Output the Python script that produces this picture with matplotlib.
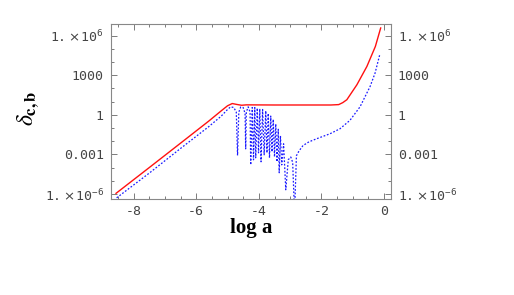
import numpy as np
import matplotlib
matplotlib.use("Agg")
import matplotlib.pyplot as plt
from matplotlib.ticker import FixedLocator, FuncFormatter, MultipleLocator, NullFormatter

# delta_c (red, solid): log a  vs  log10 delta
red_loga = [-8.56, -7.5, -6.5, -5.6, -5.2, -5.0, -4.85, -4.7, -4.55, -4.4,
            -3.5, -2.5, -1.7, -1.45, -1.32, -1.19, -0.87, -0.55, -0.28, -0.11]
red_logd = [-5.95, -4.00, -2.15, -0.48, 0.30, 0.68, 0.85, 0.78, 0.72, 0.75,
            0.74, 0.74, 0.74, 0.77, 0.92, 1.14, 2.27, 3.66, 5.17, 6.57]

# delta_b (blue, dotted): oscillating between decoupling dips
blue_loga = [-8.54, -7.5, -6.5, -5.6, -5.2, -5.0, -4.9, -4.8, -4.72, -4.68,
             -4.64, -4.58, -4.5, -4.44, -4.42,
             -4.40, -4.34, -4.28, -4.26,
             -4.21, -4.17, -4.13, -4.10, -4.05, -4.01, -3.97, -3.93,
             -3.88, -3.83, -3.78, -3.74, -3.70, -3.66, -3.62, -3.58,
             -3.54, -3.50, -3.46, -3.42, -3.38, -3.35, -3.31, -3.27,
             -3.21, -3.14, -3.06, -2.98, -2.92, -2.86,
             -2.80, -2.72, -2.59, -2.40, -2.16, -1.73, -1.41, -1.09,
             -0.77, -0.45, -0.29, -0.14]
blue_logd = [-6.29, -4.42, -2.55, -0.90, -0.10, 0.40, 0.60, 0.55, 0.2, -3.08,
             0.2, 0.58, 0.55, 0.1, -2.58,
             0.2, 0.60, 0.2, -3.79,
             0.55, -3.41, 0.55, -3.26, 0.50, -2.88, 0.45, -3.56,
             0.40, -3.03, 0.30, -2.88, 0.10, -3.26, -0.10, -2.80,
             -0.35, -3.18, -0.70, -3.56, -1.10, -4.39, -1.60, -3.79,
             -2.20, -5.68, -3.4, -3.2, -3.6, -7.5,
             -3.1, -2.75, -2.33, -2.05, -1.82, -1.44, -1.06, -0.42,
             0.60, 2.13, 3.15, 4.55]

y_major = [1e-6, 1e-3, 1.0, 1e3, 1e6]
y_labels = [r"$\mathtt{1.}\!\times\!\mathtt{10}^{\mathtt{-6}}$",
            "0.001", "1", "1000",
            r"$\mathtt{1.}\!\times\!\mathtt{10}^{\mathtt{6}}$"]

plt.rcParams["mathtext.fontset"] = "dejavusans"
plt.rcParams["font.monospace"] = ["DejaVu Sans Mono"]

fig = plt.figure(figsize=(5.14, 2.95), dpi=100)
ax = fig.add_axes([110.7 / 514, 1 - 198.5 / 295, 280 / 514, 174.2 / 295])

ax.plot(red_loga, 10.0 ** np.array(red_logd), color="#ff1010", lw=1.0)
ax.plot(blue_loga, 10.0 ** np.array(blue_logd), color="#1a1aff", lw=0.9,
        dashes=(1.4, 1.4))

ax.set_yscale("log")
ax.set_xlim(-8.73, 0.21)
ax.set_ylim(10 ** -6.34, 10 ** 6.85)

ax.yaxis.set_major_locator(FixedLocator(y_major))
ax.yaxis.set_minor_locator(FixedLocator([10.0 ** k for k in range(-6, 7)]))
ax.yaxis.set_major_formatter(FuncFormatter(lambda v, p: y_labels[p] if p is not None and p < len(y_labels) else ""))
ax.yaxis.set_minor_formatter(NullFormatter())
ax.xaxis.set_major_locator(MultipleLocator(2))
ax.xaxis.set_minor_locator(MultipleLocator(0.5))
ax.xaxis.set_major_formatter(FuncFormatter(lambda v, p: "%d" % round(v) if round(v) != 0 else "0"))
ax.xaxis.set_minor_formatter(NullFormatter())

tick_gray = "#666666"
for s in ax.spines.values():
    s.set_color("#888888")
    s.set_linewidth(0.8)
ax.tick_params(which="both", direction="in", top=True, right=True,
               labelright=True, color=tick_gray, width=0.6,
               labelsize=9.5, labelcolor="#444444")
ax.tick_params(which="major", length=4, pad=5)
ax.tick_params(which="minor", length=2)

fig.canvas.draw()
for t in ax.yaxis.get_major_ticks():
    t.label1.set_family("monospace")
    t.label2.set_family("monospace")
for t in ax.xaxis.get_major_ticks():
    t.label1.set_family("monospace")

fig.text(250.7 / 514, 1 - 228 / 295, "log a", ha="center", va="center",
         family="Liberation Serif", fontweight="bold", fontsize=15)
fig.text(28 / 514, 1 - 108 / 295, r"$\delta_{\mathbf{c,b}}$", ha="center",
         va="center", rotation=90, fontsize=17,
         math_fontfamily="stix")

fig.savefig("out.png", dpi=100)
